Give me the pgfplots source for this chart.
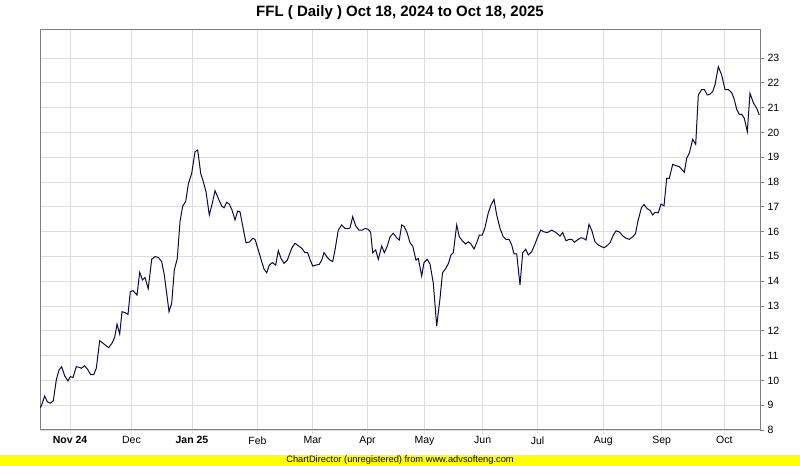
\documentclass[border=0pt]{standalone}
\usepackage{fontspec}
\setmainfont{Liberation Sans}
\usepackage{pgfplots}
\pgfplotsset{compat=1.18}
\definecolor{gridc}{RGB}{221,221,221}
\definecolor{framec}{RGB}{128,128,128}
\definecolor{linec}{RGB}{10,10,70}
\definecolor{cdyellow}{RGB}{255,255,0}
\begin{document}
\begin{tikzpicture}[x=1bp,y=1bp]
\useasboundingbox (0,0) rectangle (800,466);
\fill[white] (0,0) rectangle (800,466);
\fill[cdyellow] (0,0) rectangle (800,11);
\node[font=\fontsize{9.3bp}{10bp}\selectfont, inner sep=0pt] at (400,5.5) {ChartDirector (unregistered) from www.advsofteng.com};
\node[font=\bfseries\fontsize{15bp}{17bp}\selectfont, inner sep=0pt] at (400,453) {FFL ( Daily ) Oct 18, 2024 to Oct 18, 2025};
\begin{axis}[
  at={(40bp,36bp)}, anchor=south west,
  width=720bp, height=400bp, scale only axis,
  xmin=40, xmax=760, ymin=8, ymax=24.13,
  axis line style={framec, line width=1bp},
  grid=major,
  grid style={gridc, line width=0.9bp},
  tick align=outside,
  major tick length=4bp,
  xtick pos=bottom,
  ytick pos=right,
  yticklabel pos=right,
  ytick={8,9,...,23},
  xtick={70,131.5,192,257.5,312.7,367.5,424.5,482.7,537.5,603.3,661.7,724.3},
  xticklabels={\textbf{Nov 24},Dec,\textbf{Jan 25},Feb,Mar,Apr,May,Jun,Jul,Aug,Sep,Oct},
  x tick style={gridc, line width=0.9bp},
  y tick style={framec, line width=0.9bp},
  ticklabel style={font=\fontsize{10.5bp}{12bp}\selectfont},
  /pgf/number format/assume math mode=true,
  yticklabel style={xshift=0bp},
  xticklabel style={yshift=1bp},
]
\addplot[linec, line width=1bp, mark=none] coordinates {
(40,8.9) (41.3,8.97) (44.7,9.37) (47.3,9.14) (50.3,9.08) (53.3,9.18) (56.3,10.02) (59,10.42) (61.7,10.55) (64.7,10.18)
(68,9.98) (70.3,10.15) (73,10.12) (76.3,10.55) (79,10.53) (81.3,10.49) (84.7,10.59) (88,10.42) (90.7,10.23) (93.7,10.23)
(96.3,10.49) (99.7,11.6) (103,11.5) (106.3,11.39) (108.7,11.32) (112,11.5) (114.7,11.74) (117,12.27) (119.7,11.87) (122,12.77)
(125.3,12.73) (128,12.66) (130.3,13.58) (133,13.62) (137,13.44) (139.7,14.36) (142.5,14.05) (145,14.15) (148.2,13.7) (151.7,14.88)
(155,14.99) (158.3,14.96) (161.7,14.79) (164.3,14.25) (166.7,13.51) (169,12.77) (171.7,13.11) (174.3,14.45) (177.3,14.92) (180,16.4)
(182.7,17.03) (185.7,17.21) (188.3,17.92) (191.7,18.35) (195,19.22) (197.7,19.29) (200.7,18.35) (203.3,18.01) (206,17.61) (209.3,16.67)
(212.3,17.14) (215,17.65) (218.3,17.34) (221.7,17.03) (224,16.96) (226.7,17.18) (229.3,17.11) (232,16.87) (235,16.47) (237.7,16.83)
(240,16.8) (242.5,16.27) (246,15.55) (249.5,15.58) (252.7,15.73) (255,15.69) (258.3,15.26) (261.7,14.79) (264,14.49) (266.7,14.34)
(269.3,14.65) (272.3,14.75) (275.7,14.65) (278.3,15.23) (281,14.92) (284,14.72) (287.3,14.85) (291.7,15.33) (295,15.53) (298.3,15.43)
(301.7,15.33) (305,15.15) (307.7,15.15) (310,14.88) (312.7,14.61) (316,14.65) (319.3,14.68) (321.7,14.85) (324,15.15) (327.3,14.96)
(330,14.85) (332.7,14.79) (335,15.26) (338.3,16.06) (341.7,16.27) (345,16.13) (348,16.12) (350,16.15) (352.7,16.6) (355.7,16.23)
(359,16.06) (362.3,16.06) (365,16.13) (368.3,16.09) (370.7,15.96) (372.7,15.15) (375.7,15.26) (378.3,14.88) (381.7,15.42) (384.3,15.15)
(387.3,15.42) (390,15.79) (393.3,15.93) (396.7,15.75) (399.3,15.66) (401.7,16.27) (404.3,16.2) (407.3,15.93) (410,15.55) (412.7,15.42)
(416,14.85) (418.3,14.92) (421.7,14.21) (424,14.75) (427.3,14.88) (430,14.69) (433.3,13.92) (436.7,12.19) (440,13.3) (442.5,14.34)
(445.5,14.5) (448.5,14.72) (451,15.06) (453.3,15.15) (456.7,16.27) (459.3,15.79) (462.3,15.63) (465.7,15.5) (468.3,15.59) (471,15.5)
(474,15.3) (476.7,15.55) (479.3,15.86) (482.3,15.86) (485,16.17) (488.3,16.76) (491,17.07) (494,17.3) (496.7,16.67) (500,16.13)
(503.3,15.79) (506,15.69) (509,15.69) (511.7,15.46) (514,15.1) (516.7,15.1) (520,13.85) (522.7,15.15) (525.7,15.29) (528.3,15.06)
(531.7,15.19) (535,15.5) (537.7,15.79) (540.7,16.06) (544,15.99) (547.3,15.96) (551.7,16.06) (556,15.96) (560,15.82) (562.7,15.96)
(566,15.63) (569.3,15.69) (571.7,15.69) (574.3,15.57) (577.3,15.66) (580.7,15.75) (583.3,15.73) (586,15.66) (589,16.29) (591.7,16.06)
(595,15.59) (598.3,15.46) (601.7,15.39) (604,15.35) (606.7,15.42) (610,15.55) (613.3,15.86) (616,16.03) (619.3,15.99) (622.7,15.83)
(626,15.73) (629.3,15.69) (632.7,15.79) (635.5,15.92) (638,16.44) (641.5,16.97) (644,17.09) (647.3,16.92) (650,16.86) (652.7,16.67)
(655,16.78) (658.3,16.76) (661,17.11) (664,17.04) (666.7,18.15) (669.3,18.15) (672.7,18.71) (676,18.66) (679.3,18.62) (681.7,18.51)
(684.3,18.39) (686.7,18.96) (689.3,19.16) (692.7,19.72) (695.7,19.52) (698.3,21.51) (701.7,21.73) (704.3,21.73) (707.3,21.51) (710,21.54)
(712.7,21.65) (715,21.92) (718.3,22.65) (721.7,22.31) (725,21.73) (728.3,21.73) (731.7,21.6) (734,21.37) (736.7,20.93) (739.3,20.73)
(741.7,20.73) (744.3,20.57) (747.3,20.03) (750,21.58) (753.3,21.2) (756.7,20.97) (759.3,20.7)
};
\end{axis}
\end{tikzpicture}
\end{document}
